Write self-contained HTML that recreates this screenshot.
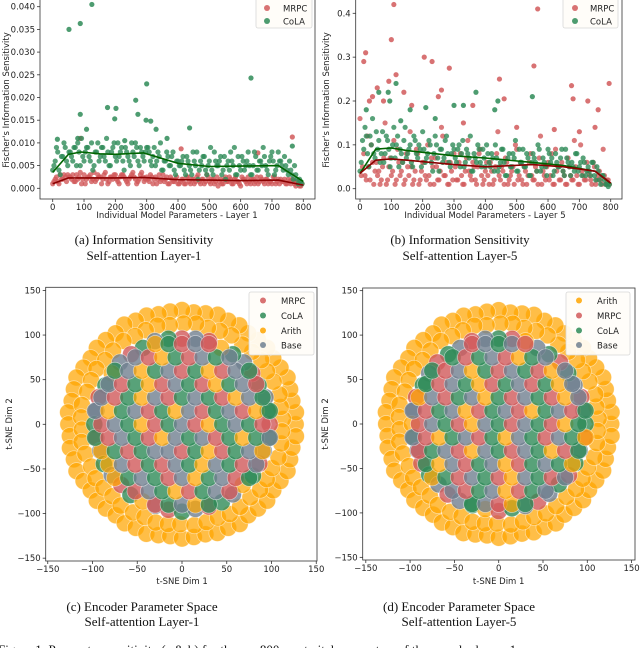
<!DOCTYPE html>
<html><head><meta charset="utf-8"><style>
html,body{margin:0;padding:0;background:#fff;}
svg{display:block;}
.tk{font-family:"DejaVu Sans","Liberation Sans",sans-serif;font-size:8.5px;fill:#222;}
.cap{font-family:"Liberation Serif",serif;font-size:13px;fill:#111;}
</style></head><body>
<svg id="fig" width="640" height="648" viewBox="0 0 640 648" xmlns="http://www.w3.org/2000/svg"></svg>
<script>
// ---------- Data: (a) layer 1, values in units of 1e-3 ----------
const xTicksTop = [0,100,200,300,400,500,600,700,800];
const yTicksA = [0,5,10,15,20,25,30,35,40];
const yTickLabelsA = ['0.000','0.005','0.010','0.015','0.020','0.025','0.030','0.035','0.040'];
const colaA = [4,6,8,3,7,9,5, 8,6,9,10,5,7,8,9,6,4,8,10,7,9,6,8,5,9,7,10,8,6,9,7,5,8,10,6,9,7,8, 9,6,7,5,8,10,4,6,7,5,8,3,6, 5,7,3,6,4,8,5,2,6,7,4,5,9,3,6,5,7,4,2,6,8,5,3,7,4,6,5,8,3,5,7,4,6,9,5,3,7,6,4,8, 6,4,5,3,4,2,3,1,1.5];
const colaA2 = [5,9,4,7,10,6,8, 7,9,5,8,11,6,9,7,10,5,8,6,9,7,11,5,8,10,6,7,9,4,8,6,10,7,9,5,8,6,9, 8,5,9,6,7,4,6,8,5,7,4,6,5, 6,4,7,5,3,6,8,4,5,7,3,6,4,8,5,6,3,7,5,4,6,9,3,5,7,4,6,5,3,8,4,6,5,7,4,6,8,3,5,6, 5,7,4,6,3,5,2,2,1];
const mrpcA = [1,2,1.5,3,2,2.5,3, 2.5,3,1.5,2,3.5,2,1,2.5,3,2,1.5,3,2.5,2,3.5,1,2.5,2,3,1.5,2.5,3,2,1,2.5,3.5,2,1.5,3,2.5,2, 2,3,1,2.5,2,1.5,3,2,1,2.5,1.5,2,1, 1.5,2,1,2.5,1,2,1.5,3,1,2,1.5,2.5,1,2,1.5,0.5,2,1,2.5,1.5,2,1,2.5,1.5,0.5,2,1.5,2.5,1,2,1.5,1,2.5,1.5,2,1,1.5,2.5,1,2, 2,1.5,1,2,1,1.5,0.5,1,0.5];
const mrpcA2 = [1.5,2.5,1,2,3,1.5,2.5, 2,1.5,3,2.5,1,3,2,2.5,1.5,3.5,2,2.5,1,3,2,1.5,2.5,3,2,1,3,2.5,1.5,2,3,2.5,1,2,3.5,1.5,2.5, 1.5,2.5,2,1,3,2,1.5,2.5,1,2,1.5,2.5,1, 2,1,2.5,1.5,2,1,2.5,1.5,2,1,3,1.5,2,1,2.5,1.5,1,2,1.5,2.5,1,2,1.5,1,2.5,2,1,1.5,2,1,2.5,1.5,2,1,2,1.5,1,2.5,1.5,1, 1.5,2,1,1.5,2,1,1.5,0.5,1];
const colaAOutX = [52,88,125,88,108,175,198,202,265,272,298,300,313,330,365,437,633,765,15,80,230];
const colaAOutY = [35,36.3,40.5,16.3,13,17.8,15.3,17.6,19.4,16.3,15,23,14.8,13,11,13.3,24.3,9.3,10.8,11,10.5];
const mrpcAOutX = [765,410,655,88];
const mrpcAOutY = [11.3,8.7,7.8,11];
const trendXA = [0,50,90,150,200,290,400,500,600,720,800];
const colaTrendA = [3.5,7.5,8,7.6,7.5,7.8,5.5,4.8,4.9,5,1.5];
const mrpcTrendA = [1,2.3,2.3,2.3,2.3,2.4,1.9,1.8,1.7,1.8,0.7];

// ---------- Data: (b) layer 5, values in units of 1e-2 ----------
const yTicksB = [0,10,20,30,40];
const yTickLabelsB = ['0.0','0.1','0.2','0.3','0.4'];
const mrpcB = [16,5,3,12,2,6,4, 3,1,5,15,2,7,4,1,9,3,6,2,5,13,1,4,8,2,6,3,10,1,5,7,2,4,12,3,1,6,2, 5,2,8,1,4,11,3,6,2,5,9,1,4, 3,6,1,5,13,2,4,7,1,3,5,10,2,6,1,4,3,8,2,5,1,12,4,2,6,3,1,9,5,2,4,1,7,3,2,5,1,10,3,2, 4,2,6,1,3,2,9,1,2];
const mrpcB2 = [3,8,2,5,10,1,6, 4,2,7,1,5,3,11,2,6,4,1,8,3,5,2,9,1,4,6,2,3,7,1,5,2,14,3,6,1,4,8, 2,6,3,1,7,4,2,5,1,8,3,2,6, 1,4,2,8,3,5,1,6,2,4,1,9,3,2,5,1,6,3,2,4,7,1,3,5,2,8,1,4,2,6,3,1,5,2,11,3,1,4,2,6, 3,1,5,2,4,1,3,2,1];
const colaB = [4,11,14,8,12,16,7, 9,6,13,8,11,5,10,7,12,9,6,14,8,10,5,11,7,9,13,6,8,10,4,12,7,9,6,11,8,5,10, 7,9,5,11,6,8,12,4,7,10,6,9,5, 8,5,7,10,4,6,9,3,7,5,8,11,4,6,9,5,7,3,8,6,10,4,7,5,9,6,3,8,5,7,4,9,6,3,5,8,4,6,7,3, 5,3,6,2,4,1,3,1,0.5];
const colaB2 = [6,9,12,5,10,8,13, 11,8,6,12,9,7,14,10,5,8,11,7,9,6,12,8,10,5,9,7,11,6,8,10,4,9,7,12,6,8,9, 6,10,8,5,9,7,4,8,6,9,5,7,10, 6,8,4,7,5,9,6,3,8,5,7,4,9,6,5,8,3,6,7,4,9,5,6,3,8,7,4,6,5,9,3,7,5,6,4,8,5,3,6,4, 4,6,3,5,2,3,2,1,1];
const mrpcBOutX = [12,18,100,108,115,92,40,55,205,230,285,445,555,567,675,680,727,760,795,260,460,75,165,360,140,250,620,700,750,30,330,500];
const mrpcBOutY = [29,31,34,42,26,24.5,21,23,30,29,27.5,25,28,41,23.5,20.5,20,18,24,22.5,20.5,20,19,19,22,21,13.5,13,14,20,15,14];
const colaBOutX = [90,115,95,130,210,300,370,440,430,550,330,160,60,20,240];
const colaBOutY = [22,24,20,15.5,18.5,19,22,20,18,21,19,18,22,18,16];
const trendXB = [0,50,100,150,300,400,550,650,750,800];
const colaTrendB = [3.5,9,9.3,8.7,7.5,7,6,5.3,4,1.2];
const mrpcTrendB = [3.5,6.5,6.8,6.5,5.5,5,5.5,5,4,1.3];

// ---------- Data: t-SNE (c,d) ----------
const tsneTicks = [-150,-100,-50,0,50,100,150];
const tsneTickLabels = ['\u2212150','\u2212100','\u221250','0','50','100','150'];
const ringOuter = [[0,127],[6,128],[12,126],[18,127],[24,129],[30,127],[36,126],[42,128],[48,127],[54,126],[60,128],[66,127],[72,129],[78,127],[84,126],[90,128],[96,127],[102,126],[108,128],[114,127],[120,129],[126,126],[132,127],[138,128],[144,126],[150,127],[156,129],[162,127],[168,126],[174,128],[180,127],[186,126],[192,128],[198,127],[204,129],[210,127],[216,126],[222,128],[228,127],[234,126],[240,128],[246,127],[252,129],[258,127],[264,126],[270,128],[276,127],[282,126],[288,128],[294,127],[300,129],[306,126],[312,127],[318,128],[324,126],[330,127],[336,129],[342,127],[348,126],[354,128]];
const ringInner = [[3,113],[10,112],[17,114],[25,113],[32,112],[39,114],[46,113],[53,112],[61,114],[68,113],[75,112],[82,114],[89,113],[97,112],[104,114],[111,113],[118,112],[125,114],[133,113],[140,112],[147,114],[154,113],[161,112],[169,114],[176,113],[183,112],[190,114],[197,113],[205,112],[212,114],[219,113],[226,112],[233,114],[241,113],[248,112],[255,114],[262,113],[269,112],[277,114],[284,113],[291,112],[298,114],[305,113],[313,112],[320,114],[327,113],[334,112],[341,114],[349,113],[356,112]];
// inner cloud edge points [angleDeg, radius]
const innerEdge = [[0,98],[9,97],[18,98],[27,96],[36,97],[45,98],[54,97],[63,96],[72,98],[81,97],[90,96],[99,97],[108,98],[117,96],[126,97],[135,98],[144,97],[153,96],[162,98],[171,97],[180,98],[189,97],[198,96],[207,98],[216,97],[225,96],[234,98],[243,97],[252,96],[261,97],[270,98],[279,96],[288,97],[297,98],[306,97],[315,96],[324,98],[333,97],[342,96],[351,98]];
const edgeLabelsL1 = "mcbcmbcambmcbcmbacmbcmbcbmcabmcbmcbacmbc";
const edgeLabelsL5 = "cbmbcmcbamcbmbcmbcmbacbmcbmbcamcbmbcmcbm";
const innerRows = [
 [-90,[-30,-15,0,15,30]],
 [-75,[-52,-37,-22,-7,8,23,38,53]],
 [-60,[-75,-60,-45,-30,-15,0,15,30,45,60,75]],
 [-45,[-82,-67,-52,-37,-22,-7,8,23,38,53,68,83]],
 [-30,[-90,-75,-60,-45,-30,-15,0,15,30,45,60,75,90]],
 [-15,[-97,-82,-67,-52,-37,-22,-7,8,23,38,53,68,83,98]],
 [0,[-90,-75,-60,-45,-30,-15,0,15,30,45,60,75,90]],
 [15,[-97,-82,-67,-52,-37,-22,-7,8,23,38,53,68,83,98]],
 [30,[-90,-75,-60,-45,-30,-15,0,15,30,45,60,75,90]],
 [45,[-82,-67,-52,-37,-22,-7,8,23,38,53,68,83]],
 [60,[-75,-60,-45,-30,-15,0,15,30,45,60,75]],
 [75,[-52,-37,-22,-7,8,23,38,53]],
 [90,[-30,-15,0,15,30]]
];
const labelsL1 = "mcbacmbcamcbmacbcmbacbmcabmcmbcabcmbacmcbbmcamcbacmbcmabcbmcacbmbcamcbmacbcmbacbmcabmcbmacbmcabmcbcmabcbmcambcmacbmcbacbmcambcbmacmbcbacmb";
const labelsL5 = "cbmacbmcbamcbacmbcmabcmbcabmcbamcbcamcbmabcmbcamcbmacbmcabcmbcambcmabcmbcmacbmcbamcbmacbmcabmcbacmbcmabcmbcamcbmcabcmbacmbcmabcmcbmacbmb";

const NS='http://www.w3.org/2000/svg';
const svg=document.getElementById('fig');
function el(tag,attrs,parent){const e=document.createElementNS(NS,tag);for(const k in attrs)e.setAttribute(k,attrs[k]);(parent||svg).appendChild(e);return e;}
function txt(s,attrs,parent){const e=el('text',attrs,parent);e.textContent=s;return e;}

const COL={m:'#d1595a',c:'#2e8b57',a:'#ffa500',b:'#708090'};

function frame(g,x0,x1,y0,y1){
  const r=el('rect',{x:x0,y:y0,width:x1-x0,height:y1-y0,fill:'none',stroke:'#333','stroke-width':0.8},g);
  
  
}
function xAxis(g,ticks,labels,sx,yb){
  ticks.forEach((t,i)=>{
    const x=sx(t);
    el('line',{x1:x,x2:x,y1:yb,y2:yb+3,stroke:'#333','stroke-width':0.8},g);
    const l=txt(labels[i],{x:x,y:yb+11,'text-anchor':'middle',class:'tk'},g);
    
    
  });
}
function yAxis(g,ticks,labels,sy,xl){
  ticks.forEach((t,i)=>{
    const y=sy(t);
    el('line',{x1:xl-3,x2:xl,y1:y,y2:y,stroke:'#333','stroke-width':0.8},g);
    const l=txt(labels[i],{x:xl-5,y:y+3,'text-anchor':'end',class:'tk'},g);
    
    
  });
}
function legend(g,x0,x1,y0,y1,items,dotX,txtX,rows){
  const lg=el('g',{},g);
  
  
  el('rect',{x:x0,y:y0,width:x1-x0,height:y1-y0,rx:2,fill:'#fffdf8','fill-opacity':0.92,stroke:'#d8d8d8','stroke-width':0.8},lg);
  items.forEach((it,i)=>{
    const c=el('circle',{cx:dotX,cy:rows[i],r:3,fill:COL[it[0]],'fill-opacity':0.85},lg);
    
    
    const t=txt(it[1],{x:txtX,y:rows[i]+3.5,class:'tk','font-size':'9.5px'},lg);
    
    
  });
}

function topPlot(cfg){
  const g=el('g',{});
  
  
  const sx=v=>cfg.xa+v*cfg.xk, sy=v=>cfg.ya-v*cfg.yk;
  const pts=(vals,off,color,name)=>{
    vals.forEach((v,i)=>{
      const c=el('circle',{cx:sx(i*8+off),cy:sy(v),r:2.6,fill:color,'fill-opacity':0.8},g);
      
      
    });
  };
  const outs=(xs,ys,color,name)=>{
    xs.forEach((x,i)=>{
      const c=el('circle',{cx:sx(x),cy:sy(ys[i]),r:2.6,fill:color,'fill-opacity':0.85},g);
      
      
    });
  };
  cfg.order.forEach(s=>{pts(s.vals,0,s.color,s.pname);pts(s.vals2,4,s.color,s.pname);outs(s.ox,s.oy,s.color,s.pname);});
  cfg.trends.forEach(tr=>{
    const d=tr.ys.map((y,i)=>(i?'L':'M')+sx(tr.xs[i]).toFixed(1)+' '+sy(y).toFixed(1)).join(' ');
    const p=el('path',{d:d,fill:'none',stroke:tr.color,'stroke-width':1.6},g);
    
    
  });
  frame(g,cfg.x0,cfg.x1,-2,199);
  xAxis(g,xTicksTop,xTicksTop.map(String),sx,199);
  yAxis(g,cfg.yt,cfg.ytl,sy,cfg.x0);
  const xl=txt(cfg.xlabel,{x:cfg.xc,y:218,'text-anchor':'middle',class:'tk','font-size':'9.5px'},g);
  
  
  const yl=txt("Fischer's Information Sensitivity",{x:0,y:0,'text-anchor':'middle',class:'tk','font-size':'8.5px',transform:`translate(${cfg.ylx},100) rotate(-90)`},g);
  
  
  legend(g,cfg.lg[0],cfg.lg[1],-2,28,[['m','MRPC'],['c','CoLA']],cfg.lg[2],cfg.lg[3],[8,21]);
}
topPlot({name:'plot-a',xa:52.7,xk:250.6/800,ya:188.3,yk:181.6/40,x0:40,x1:315,yt:yTicksA,ytl:yTickLabelsA,
  order:[{vals:mrpcA,vals2:mrpcA2,ox:mrpcAOutX,oy:mrpcAOutY,color:COL.m,pname:'mrpc-point'},{vals:colaA,vals2:colaA2,ox:colaAOutX,oy:colaAOutY,color:COL.c,pname:'cola-point'}],
  trends:[{xs:trendXA,ys:colaTrendA,color:'#006400',name:'cola-trend-line'},{xs:trendXA,ys:mrpcTrendA,color:'#8b0000',name:'mrpc-trend-line'}],
  xlabel:'Individual Model Parameters - Layer 1',xc:177,ylx:9,lg:[256,312,267,283]});
topPlot({name:'plot-b',xa:360,xk:250.7/800,ya:188.7,yk:175.4/40,x0:355.7,x1:622,yt:yTicksB,ytl:yTickLabelsB,
  order:[{vals:mrpcB,vals2:mrpcB2,ox:mrpcBOutX,oy:mrpcBOutY,color:COL.m,pname:'mrpc-point'},{vals:colaB,vals2:colaB2,ox:colaBOutX,oy:colaBOutY,color:COL.c,pname:'cola-point'}],
  trends:[{xs:trendXB,ys:colaTrendB,color:'#006400',name:'cola-trend-line'},{xs:trendXB,ys:mrpcTrendB,color:'#8b0000',name:'mrpc-trend-line'}],
  xlabel:'Individual Model Parameters - Layer 5',xc:485,ylx:329,lg:[563,618,575,590]});

function tsnePlot(cfg){
  const g=el('g',{});
  
  
  const sx=v=>cfg.cx+v*cfg.k, sy=v=>cfg.cy-v*cfg.ky;
  const dot=(x,y,cls)=>{
    const c=el('circle',{cx:sx(x),cy:sy(y),r:8.5,fill:COL[cls],'fill-opacity':cls==='a'?0.72:0.8,stroke:'#fff','stroke-opacity':0.55,'stroke-width':0.7},g);
    
    
  };
  [ringOuter,ringInner].forEach(ring=>ring.forEach(p=>{
    const a=p[0]*Math.PI/180;dot(p[1]*Math.cos(a),p[1]*Math.sin(a),'a');
  }));
  innerEdge.forEach((p,i)=>{
    const a=p[0]*Math.PI/180;dot(p[1]*Math.cos(a),p[1]*Math.sin(a),cfg.edgeLabels[i%cfg.edgeLabels.length]);
  });
  let idx=0;
  innerRows.forEach(row=>row[1].forEach(x=>{dot(x,row[0],cfg.labels[idx%cfg.labels.length]);idx++;}));
  frame(g,cfg.x0,cfg.x1,cfg.y0,cfg.y1);
  xAxis(g,tsneTicks,tsneTickLabels,sx,cfg.y1);
  yAxis(g,tsneTicks,tsneTickLabels,sy,cfg.x0);
  const xl=txt('t-SNE Dim 1',{x:cfg.cx,y:584,'text-anchor':'middle',class:'tk','font-size':'9px'},g);
  
  
  const yl=txt('t-SNE Dim 2',{x:0,y:0,'text-anchor':'middle',class:'tk','font-size':'9px',transform:`translate(${cfg.ylx},424) rotate(-90)`},g);
  
  
  legend(g,cfg.lg[0],cfg.lg[1],292,355,cfg.items,cfg.lg[2],cfg.lg[3],[300.5,315.5,330.5,345]);
}
tsnePlot({name:'plot-c',cx:182,cy:424.3,k:0.895,ky:0.8925,x0:45.7,x1:317,y0:287.3,y1:561,labels:labelsL1,edgeLabels:edgeLabelsL1,ylx:12,
  items:[['m','MRPC'],['c','CoLA'],['a','Arith'],['b','Base']],lg:[249,314,263,281]});
tsnePlot({name:'plot-d',cx:498.7,cy:424,k:0.886,ky:0.889,x0:362.7,x1:635,y0:288,y1:560,labels:labelsL5,edgeLabels:edgeLabelsL5,ylx:328,
  items:[['a','Arith'],['m','MRPC'],['c','CoLA'],['b','Base']],lg:[566,630,579,597]});

[['(a) Information Sensitivity',144,244,'caption-a'],['Self-attention Layer-1',144,260,'caption-a-sub'],
 ['(b) Information Sensitivity',460,244,'caption-b'],['Self-attention Layer-5',460,260,'caption-b-sub'],
 ['(c) Encoder Parameter Space',142,611,'caption-c'],['Self-attention Layer-1',142,626,'caption-c-sub'],
 ['(d) Encoder Parameter Space',459,611,'caption-d'],['Self-attention Layer-5',459,626,'caption-d-sub']].forEach(c=>{
  const t=txt(c[0],{x:c[1],y:c[2],'text-anchor':'middle',class:'cap'});
  
  
});
const fc=txt('Figure 1: Parameter sensitivity (a & b) for the n = 800 most vital parameters of the encoder layers 1',{x:-2,y:654,class:'cap','font-size':'13.5px'});


</script>
</body></html>
